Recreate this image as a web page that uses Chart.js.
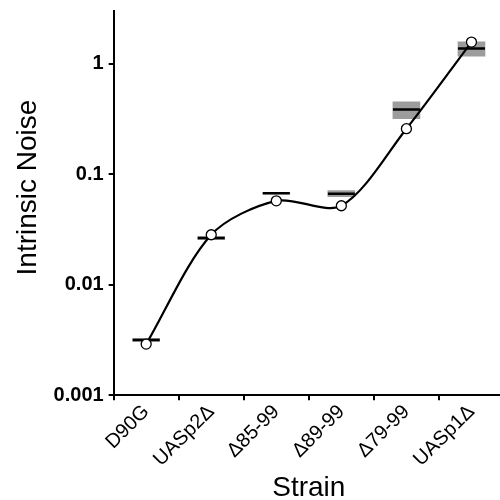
<!DOCTYPE html>
<html>
<head>
<meta charset="utf-8">
<script src="https://cdn.jsdelivr.net/npm/chart.js@4/dist/chart.umd.min.js"></script>
<style>
  html, body { margin: 0; padding: 0; background: #fff; overflow: hidden; }
  #wrap { width: 520px; height: 506px; margin-top: -6px; }
</style>
</head>
<body>
<div id="wrap"><canvas id="noiseChart"></canvas></div>
<script>
// strains along the x axis
const strains = ['D90G', 'UASp2Δ', 'Δ85-99', 'Δ89-99', 'Δ79-99', 'UASp1Δ'];

// model curve through the open circles
const modelNoise = [0.0029, 0.0283, 0.0574, 0.0518, 0.258, 1.57];

// measured mean (black bar) and spread (grey band)
const measuredMean = [0.00316, 0.0264, 0.0671, 0.0667, 0.385, 1.37];
const measuredLow = [0.00306, 0.0256, 0.0662, 0.0625, 0.318, 1.17];
const measuredHigh = [0.00327, 0.0273, 0.0682, 0.0712, 0.452, 1.58];

// decade ticks on the log axis
const yTicks = [0.001, 0.01, 0.1, 1];

function createChart() {
    const ctx = document.getElementById('noiseChart').getContext('2d');

    const bands = measuredLow.map((lo, i) => [lo, measuredHigh[i]]);

    new Chart(ctx, {
        type: 'bar',
        data: {
            labels: strains,
            datasets: [
                {
                    type: 'line',
                    data: modelNoise,
                    borderColor: '#000',
                    borderWidth: 2.2,
                    tension: 0.3,
                    pointRadius: 5,
                    pointBackgroundColor: '#fff',
                    pointBorderColor: '#000',
                    pointBorderWidth: 1.3,
                    order: 1
                },
                {
                    type: 'line',
                    data: measuredMean,
                    showLine: false,
                    pointStyle: 'line',
                    pointRadius: 13.5,
                    pointBorderColor: '#000',
                    pointBorderWidth: 2.5,
                    order: 2
                },
                {
                    type: 'bar',
                    data: bands,
                    backgroundColor: '#9c9c9c',
                    borderWidth: 0,
                    barThickness: 27,
                    order: 3
                }
            ]
        },
        options: {
            responsive: true,
            maintainAspectRatio: false,
            animation: false,
            layout: { padding: { top: 0, right: 11, left: 11, bottom: -5 } },
            plugins: {
                legend: { display: false },
                tooltip: { enabled: false }
            },
            scales: {
                x: {
                    offset: true,
                    grid: {
                        offset: true,
                        drawOnChartArea: false,
                        drawTicks: true,
                        tickLength: 5,
                        color: '#000',
                        lineWidth: 2
                    },
                    border: { display: true, color: '#000', width: 2 },
                    ticks: {
                        color: '#000',
                        maxRotation: 45,
                        minRotation: 45,
                        padding: 0,
                        font: { family: 'Liberation Sans', size: 20 }
                    },
                    title: {
                        display: true,
                        text: 'Strain',
                        color: '#000',
                        padding: { top: 0, bottom: 0 },
                        font: { family: 'Liberation Sans', size: 28 }
                    }
                },
                y: {
                    type: 'logarithmic',
                    min: 0.001,
                    max: 3,
                    afterBuildTicks: (scale) => {
                        scale.ticks = yTicks.map(v => ({ value: v }));
                    },
                    grid: {
                        drawOnChartArea: false,
                        drawTicks: true,
                        tickLength: 5,
                        color: '#000',
                        lineWidth: 2
                    },
                    border: { display: true, color: '#000', width: 2 },
                    ticks: {
                        color: '#000',
                        padding: 5,
                        font: { family: 'Liberation Sans', size: 20, weight: 'bold' },
                        callback: (value) => String(value)
                    },
                    title: {
                        display: true,
                        // leading spaces nudge the centred title upward like the original
                        text: '    Intrinsic Noise',
                        color: '#000',
                        padding: { top: 0, bottom: 4 },
                        font: { family: 'Liberation Sans', size: 28 }
                    }
                }
            }
        }
    });
}

document.addEventListener('DOMContentLoaded', createChart);
</script>
</body>
</html>
